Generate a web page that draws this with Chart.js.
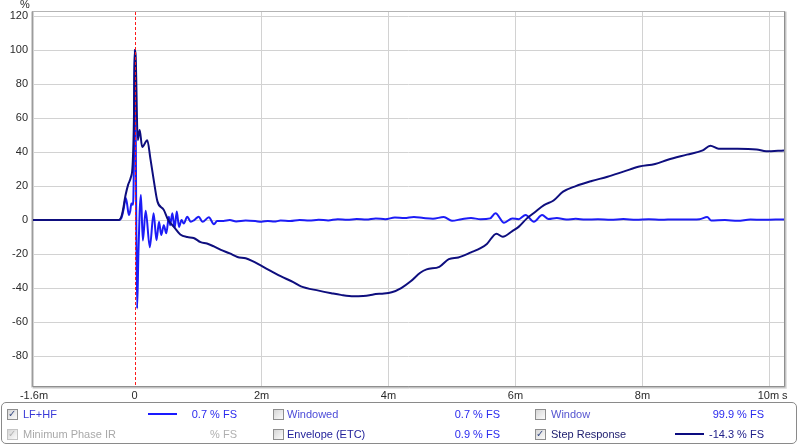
<!DOCTYPE html>
<html>
<head>
<meta charset="utf-8">
<script src="https://cdn.jsdelivr.net/npm/chart.js@4/dist/chart.umd.min.js"></script>
<style>
  html, body { margin: 0; padding: 0; background: #fff; }
  #wrap { position: relative; width: 800px; height: 447px; overflow: hidden; }
  #c { position: absolute; left: 0; top: 0; }
  .lg { position: absolute; left: 1px; top: 402px; width: 796px; height: 42px; border: 1px solid #8a8a8a; border-radius: 5px; box-sizing: border-box; }
  .t { position: absolute; font: 11px "Liberation Sans Narrow", "Liberation Sans", Arial, sans-serif; line-height: 12px; white-space: nowrap; }
  .r { text-align: right; width: 120px; }
  .cb { position: absolute; width: 11px; height: 11px; border: 1px solid #8e8e8e; box-sizing: border-box;
        background: linear-gradient(135deg, #d6d6d6, #fbfbfb); }
  .cb span { position: absolute; left: 0px; top: -2px; font: bold 10px "DejaVu Sans", sans-serif; color: #3c4f86; }
  .cb.dim { border-color: #c4c4c4; }
  .cb.dim span { color: #b4b4b4; }
  .ln { position: absolute; height: 2px; width: 29px; }
</style>
</head>
<body>
<div id="wrap">
  <canvas id="c" width="800" height="447"></canvas>
  <div class="lg"></div>
  <!-- row 1 -->
  <div class="cb" style="left:7px;top:409px"><span>✓</span></div>
  <div class="t" style="left:23px;top:408px;color:#3a3ad8">LF+HF</div>
  <div class="ln" style="left:148px;top:413px;background:#1a1aff"></div>
  <div class="t r" style="left:117px;top:408px;color:#2a2aee">0.7 % FS</div>
  <div class="cb" style="left:273px;top:409px"></div>
  <div class="t" style="left:287px;top:408px;color:#4c4cd8">Windowed</div>
  <div class="t r" style="left:380px;top:408px;color:#2a2aee">0.7 % FS</div>
  <div class="cb" style="left:535px;top:409px"></div>
  <div class="t" style="left:551px;top:408px;color:#5454d0">Window</div>
  <div class="t r" style="left:644px;top:408px;color:#2a2aee">99.9 % FS</div>
  <!-- row 2 -->
  <div class="cb dim" style="left:7px;top:429px"><span>✓</span></div>
  <div class="t" style="left:23px;top:428px;color:#a9a9a9">Minimum Phase IR</div>
  <div class="t r" style="left:117px;top:428px;color:#b0b0b0">% FS</div>
  <div class="cb" style="left:273px;top:429px"></div>
  <div class="t" style="left:287px;top:428px;color:#22229a">Envelope (ETC)</div>
  <div class="t r" style="left:380px;top:428px;color:#2a2aee">0.9 % FS</div>
  <div class="cb" style="left:535px;top:429px"><span>✓</span></div>
  <div class="t" style="left:551px;top:428px;color:#202070">Step Response</div>
  <div class="ln" style="left:675px;top:433px;background:#0c0c80"></div>
  <div class="t r" style="left:644px;top:428px;color:#20208a">-14.3 % FS</div>
</div>
<script>
// ---- data (time in ms, value in % FS) ----
const impulseTimes = [-1.6,-0.25,-0.21,-0.17,-0.14,-0.12,-0.09,-0.07,-0.05,-0.025,-0.012,0.0,0.012,0.025,0.04,0.06,0.08,0.1,0.13,0.175,0.24,0.3,0.345,0.385,0.42,0.46,0.5,0.54,0.56,0.595,0.63,0.665,0.7,0.74,0.775,0.83,0.885,0.94,1.01,1.07,1.17,1.25,1.3,1.4,1.5,1.6,1.75,1.9,2.0,2.1,2.2,2.3,2.45,2.6,2.75,2.9,3.05,3.2,3.35,3.5,3.65,3.8,3.95,4.1,4.25,4.4,4.55,4.7,4.87,5.0,5.15,5.3,5.45,5.6,5.685,5.82,5.95,6.05,6.16,6.29,6.42,6.52,6.65,6.8,6.95,7.1,7.3,7.5,7.7,7.9,8.1,8.3,8.5,8.65,8.9,9.02,9.08,9.3,9.5,9.7,9.9,10.1,10.23];
const impulseValues = [0,0,1,7,13,10,3,5,9.8,9,30,100,90,10,-52,-20,5,14.7,-12,5.5,-16,4,-11.8,-1,-8.8,-3,-7.8,2,-3,4,-4.7,5,-4,0,-2,2,-1,0,2,-1,1.6,-2.4,-0.6,-0.5,0,-0.8,-0.3,-0.6,-1,-0.5,-0.9,-0.3,-0.6,0,-0.3,0.2,-0.2,0.5,0.2,0.6,0.3,1,0.5,1.5,1.2,1.8,1.2,0.8,1.8,-0.4,0.5,1.2,0.5,1,4,-1.6,1,0.5,3,-1,3,0.6,1.2,0.3,0.8,0.3,0.5,0.2,0.6,0.2,0.5,0.2,0.4,0.3,0.5,1.8,-0.2,0,-0.4,0.3,0.2,0.3,0.3];

const stepTimes = [-1.6,-0.25,-0.2,-0.14,-0.1,-0.06,-0.03,-0.01,0.0,0.015,0.05,0.08,0.12,0.2,0.25,0.3,0.36,0.46,0.53,0.62,0.72,0.83,0.93,1.04,1.14,1.25,1.36,1.5,1.62,1.75,1.85,2.0,2.15,2.3,2.5,2.62,2.9,3.1,3.25,3.45,3.6,3.7,3.8,3.9,4.05,4.2,4.35,4.5,4.6,4.8,4.95,5.1,5.3,5.45,5.55,5.7,5.8,5.95,6.05,6.18,6.3,6.45,6.6,6.75,6.95,7.2,7.45,7.7,7.95,8.2,8.4,8.7,8.95,9.07,9.2,9.5,9.8,9.95,10.23];
const stepValues = [0,0,3,15,21,25,33,60,100,98,47,53,43,47,36,24,11,6,0,-4,-8.5,-10,-10.5,-13,-13.8,-15.5,-17.5,-19.6,-21.7,-22.5,-24,-27,-30,-33,-36.5,-39,-41.5,-43,-44,-44.8,-44.6,-44.2,-43.5,-43.3,-42.5,-40,-36,-31,-29,-27.5,-23,-22,-19,-16.5,-14,-8,-9.8,-6.5,-4,1,4.5,8.8,11.5,16.7,20,23,25.5,28.5,31.5,33,35.5,38.5,41,43.7,42,42,41.5,40.5,41];

const xTickValues = [-1.6, 0, 2, 4, 6, 8, 10];
const xTickLabels = ['-1.6m', '0', '2m', '4m', '6m', '8m', '10m'];
const yTickValues = [-80, -60, -40, -20, 0, 20, 40, 60, 80, 100, 120];
const yTickLabels = ['-80', '-60', '-40', '-20', '0', '20', '40', '60', '80', '100', '120'];

const toPts = (ts, vs) => ts.map((t, i) => ({ x: t, y: vs[i] }));
const FONT = '11px "Liberation Sans Narrow", "Liberation Sans", Arial, sans-serif';

const decor = {
  id: 'decor',
  afterDatasetsDraw(chart) {
    const { ctx, chartArea: a, scales } = chart;
    // red dashed marker at t=0, drawn as short filled red segments
    const x0 = Math.round(scales.x.getPixelForValue(0));
    ctx.save();
    ctx.globalAlpha = 1;
    ctx.globalCompositeOperation = 'source-over';
    ctx.fillStyle = '#ff1a1a';
    for (let y = Math.round(a.top); y < a.bottom; y += 5) {
      ctx.fillRect(x0, y, 1, Math.min(3, a.bottom - y));
    }
    ctx.restore();
  },
  afterDraw(chart) {
    const { ctx, chartArea: a, scales } = chart;
    ctx.save();
    ctx.setLineDash([]);
    // frame
    ctx.lineWidth = 1;
    ctx.strokeStyle = '#b4b4b4';
    ctx.strokeRect(a.left - 0.5, a.top - 0.5, a.right - a.left + 1, a.bottom - a.top + 1);
    const L = a.left - 0.5, B = a.bottom + 0.5, R = a.right + 0.5, T = a.top - 0.5;
    [['#8f8f8f', 0], ['#c2c2c2', 1], ['#e2e2e2', 2]].forEach(([c, d]) => {
      ctx.strokeStyle = c;
      ctx.beginPath();
      ctx.moveTo(L, B + d); ctx.lineTo(R + d, B + d); ctx.lineTo(R + d, T);
      ctx.stroke();
    });
    ctx.strokeStyle = '#9c9c9c';
    ctx.beginPath(); ctx.moveTo(L, T); ctx.lineTo(L, B); ctx.stroke();
    ctx.strokeStyle = '#d0d0d0';
    ctx.beginPath(); ctx.moveTo(L - 1, T); ctx.lineTo(L - 1, B + 1); ctx.stroke();

    // tick labels
    ctx.font = FONT;
    ctx.fillStyle = '#2a2a2a';
    ctx.textAlign = 'right';
    ctx.textBaseline = 'middle';
    yTickValues.forEach((v, i) => {
      ctx.fillText(yTickLabels[i], 28, scales.y.getPixelForValue(v));
    });
    ctx.textAlign = 'center';
    xTickValues.forEach((v, i) => {
      const dx = i === 0 ? 1 : (i === xTickValues.length - 1 ? -1 : 0);
      ctx.fillText(xTickLabels[i], scales.x.getPixelForValue(v) + dx, 396);
    });
    ctx.textAlign = 'left';
    ctx.fillText('s', 782, 396);
    ctx.fillText('%', 20, 5);
    ctx.restore();
  }
};

new Chart(document.getElementById('c'), {
  type: 'line',
  data: {
    datasets: [
      {
        label: 'Step Response',
        data: toPts(stepTimes, stepValues),
        borderColor: '#0e0e7e',
        borderWidth: 2,
        pointRadius: 0,
        cubicInterpolationMode: 'monotone',
        fill: false
      },
      {
        label: 'LF+HF',
        data: toPts(impulseTimes, impulseValues),
        borderColor: '#1c1cf6',
        borderWidth: 2,
        pointRadius: 0,
        cubicInterpolationMode: 'monotone',
        fill: false
      }
    ]
  },
  options: {
    responsive: false,
    animation: false,
    devicePixelRatio: 1,
    layout: { padding: { left: 33, right: 16, top: 12, bottom: 61 } },
    plugins: { legend: { display: false }, tooltip: { enabled: false } },
    scales: {
      x: {
        type: 'linear',
        min: -1.6,
        max: 10.23,
        afterBuildTicks: (s) => { s.ticks = xTickValues.map(v => ({ value: v })); },
        grid: {
          color: (c) => (c.tick && c.tick.value === 0 ? 'rgba(0,0,0,0)' : '#d2d2d2'),
          lineWidth: 1,
          drawTicks: false
        },
        border: { display: false },
        ticks: { display: false }
      },
      y: {
        type: 'linear',
        min: -97.6,
        max: 122.4,
        afterBuildTicks: (s) => { s.ticks = yTickValues.map(v => ({ value: v })); },
        grid: { color: '#d2d2d2', lineWidth: 1, drawTicks: false },
        border: { display: false },
        ticks: { display: false }
      }
    }
  },
  plugins: [decor]
});
</script>
</body>
</html>
